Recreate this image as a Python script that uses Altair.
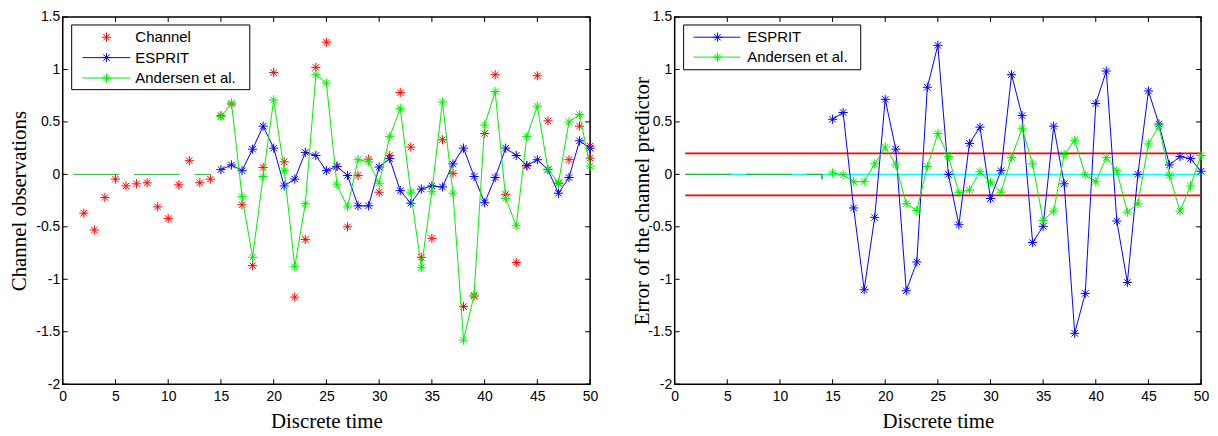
import altair as alt
import pandas as pd

# ---------------- data ----------------
t_pred = list(range(15, 51))

channel_t = list(range(2, 51)) + [50]
channel_v = [-0.37, -0.53, -0.22, -0.045, -0.11, -0.09, -0.08, -0.31, -0.42, -0.10,
             0.13, -0.08, -0.045, 0.56, 0.67, -0.29, -0.87, 0.066, 0.97, 0.12,
             -1.17, -0.62, 1.02, 1.26, 0.076, -0.50, -0.01, 0.145, -0.17, 0.18,
             0.78, 0.26, -0.79, -0.61, 0.33, 0.01, -1.26, -1.16, 0.39, 0.95,
             -0.19, -0.84, 0.08, 0.94, 0.51, -0.085, 0.14, 0.46, 0.155, 0.27]

esprit_obs = [0.045, 0.09, 0.035, 0.24, 0.46, 0.25, -0.11, -0.045, 0.21, 0.18,
              0.035, 0.076, -0.01, -0.30, -0.30, 0.07, 0.15, -0.155, -0.275, -0.14,
              -0.11, -0.12, 0.10, 0.25, -0.02, -0.27, -0.03, 0.25, 0.18, 0.085,
              0.14, 0.045, -0.18, -0.03, 0.32, 0.25]

andersen_obs = [0.55, 0.68, -0.21, -0.79, -0.02, 0.71, 0.035, -0.88, -0.28, 0.95,
                0.87, -0.10, -0.31, 0.14, 0.12, -0.085, 0.36, 0.63, -0.17, -0.89,
                -0.165, 0.69, -0.18, -1.58, -1.15, 0.47, 0.79, -0.23, -0.49, 0.36,
                0.65, 0.05, -0.08, 0.50, 0.57, 0.08]

esprit_err = [0.525, 0.59, -0.32, -1.10, -0.41, 0.715, 0.24, -1.11, -0.835, 0.83,
              1.23, 0.0, -0.48, 0.295, 0.45, -0.23, 0.035, 0.95, 0.56, -0.65,
              -0.495, 0.46, -0.09, -1.515, -1.135, 0.675, 0.985, -0.445, -1.03, 0.0,
              0.795, 0.48, 0.09, 0.17, 0.15, 0.03]

andersen_err = [0.013, -0.005, -0.07, -0.07, 0.10, 0.26, 0.09, -0.28, -0.345, 0.075,
                0.39, 0.17, -0.175, -0.15, 0.025, -0.075, -0.17, 0.16, 0.44, 0.10,
                -0.44, -0.35, 0.19, 0.325, -0.005, -0.07, 0.16, 0.035, -0.36, -0.28,
                0.29, 0.46, -0.01, -0.35, -0.11, 0.18]

baseline_t = [1, 14]
baseline_v = [0.0, 0.0]
drop_t = [14, 14]
drop_v = [0.0, -0.05]
span_t = [1, 50]
thresholds = [0.2, -0.2]

x_ticks = list(range(0, 51, 5))
y_ticks = [-2, -1.5, -1, -0.5, 0, 0.5, 1, 1.5]

# ---------------- style ----------------
SANS = "Liberation Sans"
SERIF = "Liberation Serif"
RED, BLUE, GREEN = "#ff0000", "#0000ff", "#00ee00"
DGREEN = "#22bb44"
CYAN = "#00ffff"
STAR = "M-1,0L1,0M0,-1L0,1M-0.7,-0.7L0.7,0.7M-0.7,0.7L0.7,-0.7"
W1, W2, H = 530, 529, 369

xs = alt.Scale(domain=[0, 50], nice=False, zero=False)
ys = alt.Scale(domain=[-2, 1.5], nice=False, zero=False)

X_AXIS = alt.Axis(values=x_ticks, labelExpr="'' + datum.value", ticks=False, domain=False,
                  grid=False, labelFont=SANS, labelFontSize=14, labelColor="black",
                  labelPadding=5, labelFlush=False, labelOverlap=False,
                  title="Discrete time", titleFont=SERIF, titleFontSize=21,
                  titleFontWeight="normal", titleColor="black", titlePadding=8)


def y_axis(title, tx):
    return alt.Axis(values=y_ticks, labelExpr="'' + datum.value", ticks=False, domain=False,
                    grid=False, labelFont=SANS, labelFontSize=14, labelColor="black",
                    labelPadding=3, labelFlush=False, labelOverlap=False,
                    title=title, titleFont=SERIF, titleFontSize=21,
                    titleFontWeight="normal", titleColor="black", titleX=tx,
                    titleBaseline="middle")


def enc(yax):
    return dict(x=alt.X("t:Q", scale=xs, axis=X_AXIS),
                y=alt.Y("v:Q", scale=ys, axis=yax))


def frame_ticks(W, yax):
    xt = pd.DataFrame({"t": x_ticks})
    yt = pd.DataFrame({"v": y_ticks})
    X = alt.X("t:Q", scale=xs, axis=X_AXIS)
    Y = alt.Y("v:Q", scale=ys, axis=yax)
    return [
        alt.Chart(xt).mark_rule(color="black", strokeWidth=1).encode(x=X, y=alt.value(H), y2=alt.value(H - 5)),
        alt.Chart(xt).mark_rule(color="black", strokeWidth=1).encode(x=X, y=alt.value(0), y2=alt.value(5)),
        alt.Chart(yt).mark_rule(color="black", strokeWidth=1).encode(y=Y, x=alt.value(0), x2=alt.value(5)),
        alt.Chart(yt).mark_rule(color="black", strokeWidth=1).encode(y=Y, x=alt.value(W - 5), x2=alt.value(W)),
    ]


def series(t, v, color, yax, line=True):
    df = pd.DataFrame({"t": t, "v": v})
    layers = []
    if line:
        layers.append(alt.Chart(df).mark_line(strokeWidth=1).encode(
            color=alt.value(color), **enc(yax)))
    layers.append(alt.Chart(df).mark_point(shape=STAR, filled=False, size=85, strokeWidth=1,
                                           opacity=1).encode(stroke=alt.value(color), **enc(yax)))
    return layers


ONE = alt.Data(values=[{"a": 1}])


def legend(entries, box, row0, dy, lx0, lx1, sx, tx):
    x0, x1, y0, y1 = box
    layers = [alt.Chart(ONE).mark_rect(fill="white", stroke="black", strokeWidth=1).encode(
        x=alt.value(x0), x2=alt.value(x1), y=alt.value(y0), y2=alt.value(y1))]
    for i, (label, color, has_line) in enumerate(entries):
        yy = row0 + dy * i
        if has_line:
            layers.append(alt.Chart(ONE).mark_rule(strokeWidth=1).encode(
                color=alt.value(color), x=alt.value(lx0), x2=alt.value(lx1), y=alt.value(yy)))
        layers.append(alt.Chart(ONE).mark_point(shape=STAR, filled=False, size=85, strokeWidth=1,
                                                opacity=1).encode(
            stroke=alt.value(color), x=alt.value(sx), y=alt.value(yy)))
        layers.append(alt.Chart(ONE).mark_text(text=label, align="left", baseline="middle",
                                               font=SANS, fontSize=15, color="black").encode(
            x=alt.value(tx), y=alt.value(yy)))
    return layers


# ---------------- left panel ----------------
yl = y_axis("Channel observations", -43)
left_layers = frame_ticks(W1, yl)
left_layers.append(alt.Chart(pd.DataFrame({"t": baseline_t, "v": baseline_v})).mark_line(
    strokeWidth=1, strokeDash=[46, 15]).encode(color=alt.value(DGREEN), **enc(yl)))
left_layers += series(channel_t, channel_v, RED, yl, line=False)
left_layers += series(t_pred, esprit_obs, BLUE, yl)
left_layers += series(t_pred, andersen_obs, GREEN, yl)
left_layers += legend([("Channel", RED, False), ("ESPRIT", BLUE, True), ("Andersen et al.", GREEN, True)],
                      (9, 188, 8, 73), 20.3, 20.5, 20, 68, 44, 73)
left = alt.layer(*left_layers).properties(width=W1, height=H)

# ---------------- right panel ----------------
yr = y_axis("Error of the channel predictor", -32)
right_layers = frame_ticks(W2, yr)
for th in thresholds:
    right_layers.append(alt.Chart(pd.DataFrame({"t": span_t, "v": [th, th]})).mark_line(
        strokeWidth=1.6).encode(color=alt.value(RED), **enc(yr)))
right_layers.append(alt.Chart(pd.DataFrame({"t": span_t, "v": [0.0, 0.0]})).mark_line(
    strokeWidth=1.2).encode(color=alt.value(CYAN), **enc(yr)))
right_layers.append(alt.Chart(pd.DataFrame({"t": baseline_t, "v": baseline_v})).mark_line(
    strokeWidth=1.5, strokeDash=[46, 15]).encode(color=alt.value(DGREEN), **enc(yr)))
right_layers.append(alt.Chart(pd.DataFrame({"t": drop_t, "v": drop_v})).mark_line(
    strokeWidth=1.5).encode(color=alt.value("#119933"), **enc(yr)))
right_layers += series(t_pred, esprit_err, BLUE, yr)
right_layers += series(t_pred, andersen_err, GREEN, yr)
right_layers += legend([("ESPRIT", BLUE, True), ("Andersen et al.", GREEN, True)],
                       (9, 187, 8, 53), 20.3, 20, 19, 66, 43, 73)
right = alt.layer(*right_layers).properties(width=W2, height=H)

chart = alt.hconcat(left, right, spacing=32).properties(
    padding=0, background="white"
).configure_view(stroke="black", strokeWidth=1.5)

chart.save("out.html", embed_options={"renderer": "svg", "actions": False})
